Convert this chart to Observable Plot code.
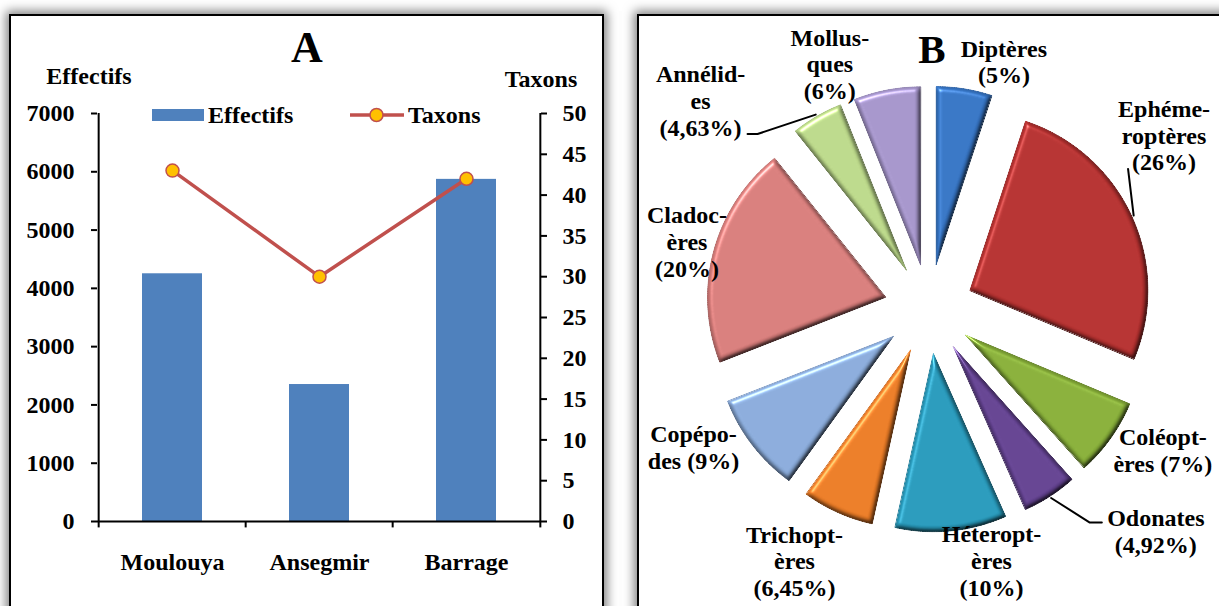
<!DOCTYPE html>
<html>
<head>
<meta charset="utf-8">
<script src="https://cdn.jsdelivr.net/npm/d3@7"></script>
<script src="https://cdn.jsdelivr.net/npm/@observablehq/plot@0.6"></script>
<style>
  html, body { margin: 0; padding: 0; background: #fff; }
  #wrap { position: relative; width: 1219px; height: 606px; overflow: hidden; background: #fff;
          font-family: "Liberation Serif", "Times New Roman", serif; font-weight: bold; color: #000; }
  .frame { position: absolute; box-sizing: border-box; border: 2px solid #000; background: #fff;
           box-shadow: 0 0 10px 3px rgba(0,0,0,0.5); }
  .abs { position: absolute; white-space: nowrap; line-height: 1; }
  #left { position: absolute; left: 0; top: 0; width: 610px; height: 606px; }
  #right { position: absolute; left: 620px; top: 0; width: 599px; height: 606px; }
</style>
</head>
<body>
<div id="wrap">
  <div class="frame" style="left:9px;top:14px;width:595px;height:700px"></div>
  <div class="frame" style="left:637px;top:14px;width:700px;height:700px"></div>
  <div id="left"></div>
  <div id="right"></div>
  <div class="abs" style="left:307px;top:48px;transform:translate(-50%,-50%);font-size:44px">A</div>
  <div class="abs" style="left:89px;top:76px;transform:translate(-50%,-50%);font-size:24px">Effectifs</div>
  <div class="abs" style="left:541px;top:79px;transform:translate(-50%,-50%);font-size:24px">Taxons</div>
  <div class="abs" style="left:932px;top:49px;transform:translate(-50%,-50%);font-size:41px">B</div>
  <!-- legend -->
  <div class="abs" style="left:152px;top:109px;width:52px;height:12px;background:#4F81BD"></div>
  <div class="abs" style="left:208px;top:115px;transform:translateY(-50%);font-size:24px">Effectifs</div>
  <svg class="abs" style="left:348px;top:105px" width="58" height="20">
    <line x1="2" y1="10" x2="56" y2="10" stroke="#C0504D" stroke-width="3.5"/>
    <circle cx="28.5" cy="10" r="6.5" fill="#FFC000" stroke="#C0504D" stroke-width="1.5"/>
  </svg>
  <div class="abs" style="left:408px;top:115px;transform:translateY(-50%);font-size:24px">Taxons</div>
</div>
<script>
// ---------- Panel A data ----------
const sites = ["Moulouya", "Ansegmir", "Barrage"];
const effectifs = [4250, 2350, 5870];
const taxons = [43, 30, 42];
const leftTicks = [0, 1000, 2000, 3000, 4000, 5000, 6000, 7000];
const rightTicks = [0, 5, 10, 15, 20, 25, 30, 35, 40, 45, 50];

// ---------- Panel B data ----------
const groups = ["Diptères", "Ephéméroptères", "Coléoptères", "Odonates", "Hétéroptères",
                "Trichoptères", "Copépodes", "Cladocères", "Annélides", "Mollusques"];
const shares = [5, 26, 7, 4.92, 10, 6.45, 9, 20, 4.63, 6];
const sliceLabels = ["Diptères\n(5%)", "Ephéme-\nroptères\n(26%)", "Coléopt-\nères (7%)",
                     "Odonates\n(4,92%)", "Héteropt-\nères\n(10%)", "Trichopt-\nères\n(6,45%)",
                     "Copépo-\ndes (9%)", "Cladoc-\nères\n(20%)", "Annélid-\nes\n(4,63%)",
                     "Mollus-\nques\n(6%)"];
const sliceColors = ["#3573C2", "#B3302F", "#86AD38", "#62418F", "#2798B9",
                     "#E87A25", "#88A9D8", "#D57B79", "#B9D688", "#A393C8"];

const font = "'Liberation Serif', 'Times New Roman', serif";

// ---------- Panel A ----------
const rowsA = sites.map((s, i) => ({site: s, eff: effectifs[i], tax: taxons[i]}));
const k = 7000 / 50;           // secondary axis factor
const innerW = 610 - 97 - 70;
const step = innerW / sites.length;

const chartA = Plot.plot({
  width: 610, height: 606,
  marginLeft: 97, marginRight: 70, marginTop: 113, marginBottom: 85,
  style: {background: "transparent", fontFamily: font, fontSize: "24px", fontWeight: "bold", color: "#000", overflow: "visible"},
  x: {domain: sites, paddingInner: 0.594, paddingOuter: 0.297, label: null},
  y: {domain: [0, 7000], label: null},
  marks: [
    Plot.barY(rowsA, {x: "site", y: "eff", fill: "#4F81BD"}),
    Plot.ruleY([0], {stroke: "#000", strokeWidth: 2}),
    Plot.ruleX(sites, {x: d => d, y1: 0, y2: -110, dx: -step / 2, stroke: "#000", strokeWidth: 2}),
    Plot.ruleX([sites[sites.length - 1]], {x: d => d, y1: -110, y2: 0, dx: step / 2, stroke: "#000", strokeWidth: 2}),
    Plot.ruleX([sites[0]], {x: d => d, y1: 0, y2: 7000, dx: -step / 2, stroke: "#000", strokeWidth: 2}),
    Plot.ruleX([sites[sites.length - 1]], {x: d => d, y1: 0, y2: 7000, dx: step / 2, stroke: "#000", strokeWidth: 2}),
    Plot.axisY(leftTicks, {anchor: "left", tickSize: 6, tickPadding: 17, strokeWidth: 2, tickFormat: d => String(d), label: null}),
    Plot.axisY(rightTicks.map(t => t * k), {anchor: "right", tickSize: 6, tickPadding: 16, strokeWidth: 2, tickFormat: d => String(Math.round(d / k)), label: null}),
    Plot.axisX({tickSize: 0, tickPadding: 31, label: null}),
    Plot.line(rowsA, {x: "site", y: d => d.tax * k, stroke: "#C0504D", strokeWidth: 3.5}),
    Plot.dot(rowsA, {x: "site", y: d => d.tax * k, r: 6.5, fill: "#FFC000", stroke: "#C0504D", strokeWidth: 1.5})
  ]
});
document.getElementById("left").appendChild(chartA);

// ---------- Panel B ----------
const R = 178;      // pie radius (px units)
const E = 45;       // explosion distance
const labelR = 265; // base radius for labels
const labelNudge = [[33, 14], [-6, -64], [18, -13], [83, -1], [36, -12],
                    [-26, 10], [-26, -24], [14, 1], [-95, 20], [-49, 15]];

const arcs = d3.pie().sort(null).value(d => d)(shares);
const wedgePts = [];
const labelRows = [];
arcs.forEach((a, i) => {
  const mid = (a.startAngle + a.endAngle) / 2;
  const ox = E * Math.sin(mid), oy = E * Math.cos(mid);
  wedgePts.push({name: groups[i], x: ox, y: oy, fill: sliceColors[i]});
  const n = Math.max(8, Math.ceil((a.endAngle - a.startAngle) / 0.01));
  for (let j = 0; j <= n; j++) {
    const t = a.startAngle + (a.endAngle - a.startAngle) * j / n;
    wedgePts.push({name: groups[i], x: ox + R * Math.sin(t), y: oy + R * Math.cos(t), fill: sliceColors[i]});
  }
  labelRows.push({
    name: groups[i], text: sliceLabels[i], mid, ox, oy,
    x: labelR * Math.sin(mid) + labelNudge[i][0],
    y: labelR * Math.cos(mid) - labelNudge[i][1]
  });
});

// leader lines: from slice arc (mid angle) to near the label
const leaderIdx = {1: [[-36, 34]], 3: [[-66, -8], [-54, -8]], 8: [[57, 34], [47, 34]]};
const leaderPts = [];
for (const [key, offs] of Object.entries(leaderIdx)) {
  const L = labelRows[+key];
  leaderPts.push({g: key, x: L.ox + (R + 2) * Math.sin(L.mid), y: L.oy + (R + 2) * Math.cos(L.mid)});
  offs.forEach(([dx, dy]) => leaderPts.push({g: key, x: L.x + dx, y: L.y - dy}));
}

const chartB = Plot.plot({
  width: 599, height: 606,
  margin: 0,
  style: {background: "transparent", fontFamily: font, fontWeight: "bold", color: "#000", overflow: "visible"},
  x: {domain: [-308.5, 290.5], axis: null},
  y: {domain: [-297.5, 308.5], axis: null},
  color: {type: "identity"},
  marks: [
    Plot.line(wedgePts, {x: "x", y: "y", z: "name", fill: "fill", stroke: "fill", strokeWidth: 1, curve: "linear-closed"}),
    Plot.line(leaderPts, {x: "x", y: "y", z: "g", stroke: "#000", strokeWidth: 2}),
    Plot.text(labelRows, {x: "x", y: "y", text: "text", fontSize: 24, lineHeight: 1.12, fill: "#000", textAnchor: "middle"})
  ]
});

// soft bevel effect on the slices (visual styling only)
const svgB = d3.select(chartB);
const defs = svgB.insert("defs", ":first-child");
const f = defs.append("filter").attr("id", "bevel").attr("color-interpolation-filters", "sRGB")
  .attr("x", "-10%").attr("y", "-10%").attr("width", "120%").attr("height", "120%");
f.append("feGaussianBlur").attr("in", "SourceAlpha").attr("stdDeviation", 2.5).attr("result", "blur");
const spec = f.append("feSpecularLighting").attr("in", "blur").attr("surfaceScale", 4)
  .attr("specularConstant", 0.9).attr("specularExponent", 35).attr("lighting-color", "#ffffff").attr("result", "spec");
spec.append("feDistantLight").attr("azimuth", 235).attr("elevation", 45);
f.append("feComposite").attr("in", "spec").attr("in2", "SourceAlpha").attr("operator", "in").attr("result", "specOut");
const diff = f.append("feDiffuseLighting").attr("in", "blur").attr("surfaceScale", 4)
  .attr("diffuseConstant", 1).attr("lighting-color", "#ffffff").attr("result", "diff");
diff.append("feDistantLight").attr("azimuth", 235).attr("elevation", 65);
f.append("feComposite").attr("in", "SourceGraphic").attr("in2", "diff").attr("operator", "arithmetic")
  .attr("k1", 1.1).attr("k2", 0).attr("k3", 0).attr("k4", 0).attr("result", "lit");
f.append("feComposite").attr("in", "lit").attr("in2", "specOut").attr("operator", "arithmetic")
  .attr("k1", 0).attr("k2", 1).attr("k3", 0.45).attr("k4", 0).attr("result", "out");
f.append("feComposite").attr("in", "out").attr("in2", "SourceAlpha").attr("operator", "in");
svgB.selectAll("g[aria-label='line']").filter((d, i) => i === 0).attr("filter", "url(#bevel)");

document.getElementById("right").appendChild(chartB);
</script>
</body>
</html>
